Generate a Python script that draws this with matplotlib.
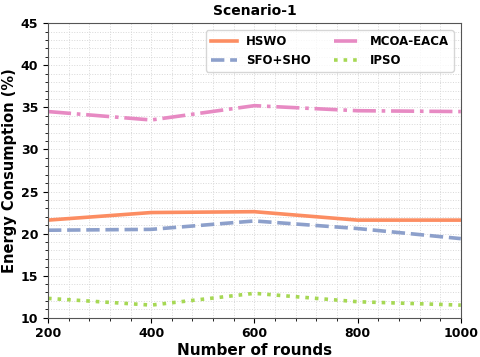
import numpy as np
import matplotlib.pyplot as plt
from matplotlib.ticker import MultipleLocator

# Data
rounds = [200, 400, 600, 800, 1000]
hswo = [21.6, 22.5, 22.6, 21.6, 21.6]
sfo_sho = [20.4, 20.5, 21.5, 20.6, 19.4]
mcoa_eaca = [34.5, 33.5, 35.2, 34.6, 34.5]
ipso = [12.3, 11.5, 12.9, 11.9, 11.5]

fig, ax = plt.subplots(figsize=(4.8, 3.57), dpi=100)

ax.plot(rounds, hswo, color='#fc8d62', lw=2.6, ls='-', label='HSWO')
ax.plot(rounds, sfo_sho, color='#8da0cb', lw=2.6, ls='--', label='SFO+SHO')
ax.plot(rounds, mcoa_eaca, color='#e78ac3', lw=2.6, ls='-.', label='MCOA-EACA')
ax.plot(rounds, ipso, color='#a6d854', lw=2.6, ls=':', label='IPSO')

ax.set_xlim(200, 1000)
ax.set_ylim(10, 45)
ax.xaxis.set_major_locator(MultipleLocator(200))
ax.xaxis.set_minor_locator(MultipleLocator(40))
ax.yaxis.set_major_locator(MultipleLocator(5))
ax.yaxis.set_minor_locator(MultipleLocator(1))
ax.grid(which='both', ls=':', color='#d8d8d8', lw=0.7)
ax.set_axisbelow(True)

for lab in ax.get_xticklabels() + ax.get_yticklabels():
    lab.set_fontweight('bold')
ax.tick_params(labelsize=9)
for s in ax.spines.values():
    s.set_color('#555555')

ax.set_title('Scenario-1', fontsize=10, fontweight='bold')
ax.set_xlabel('Number of rounds', fontsize=11, fontweight='bold', labelpad=2)
ax.set_ylabel('Energy Consumption (%)', fontsize=10.5, fontweight='bold', labelpad=3)

ax.legend(loc='upper right', ncol=2, prop={'weight': 'bold', 'size': 8.5},
          handlelength=2.2, columnspacing=2.0, borderaxespad=0.6)

plt.subplots_adjust(left=0.1, right=0.96, top=0.935, bottom=0.11)
plt.savefig('out.png')
